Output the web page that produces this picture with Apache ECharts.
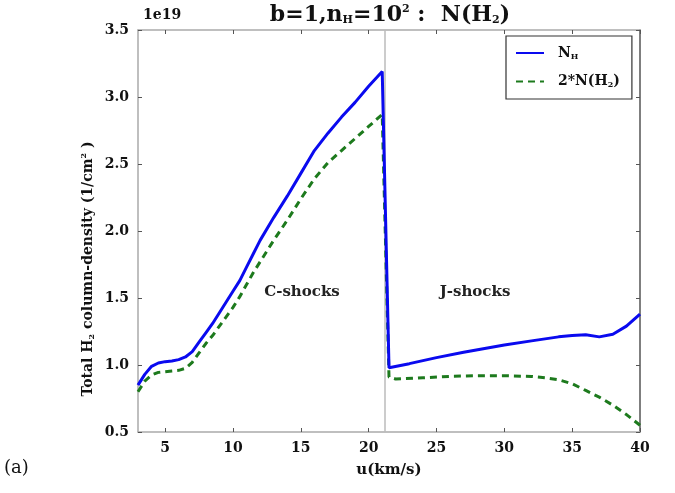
<!DOCTYPE html>
<html>
<head>
<meta charset="utf-8">
<script src="https://cdn.jsdelivr.net/npm/echarts@6/dist/echarts.min.js"></script>
<style>html,body{margin:0;padding:0;background:#fff;}#c{width:675px;height:493px;}</style>
</head>
<body>
<div id="c"></div>
<script>
// Data (column density in units of 1e19 cm^-2)
var xTicks = [5, 10, 15, 20, 25, 30, 35, 40];
var nH = [[3,0.85],[3.5,0.93],[4,0.99],[4.5,1.015],[5,1.025],[5.5,1.03],[6,1.04],[6.5,1.06],[7,1.10],[7.5,1.17],[8,1.24],[8.5,1.31],[9,1.39],[9.5,1.47],[10,1.55],[10.5,1.63],[11,1.73],[11.5,1.83],[12,1.93],[13,2.10],[14,2.26],[15,2.43],[16,2.60],[17,2.73],[18,2.85],[19,2.96],[20,3.08],[21,3.19],[21.5,0.98],[23,1.01],[25,1.055],[27,1.095],[30,1.15],[32,1.18],[34,1.21],[35,1.22],[36,1.225],[37,1.21],[38,1.23],[39,1.29],[40,1.38]];
var nH2x2 = [[3,0.80],[3.5,0.88],[4,0.925],[4.5,0.945],[5,0.95],[5.5,0.955],[6,0.96],[6.5,0.975],[7,1.02],[7.5,1.09],[8,1.16],[8.5,1.22],[9,1.29],[9.5,1.36],[10,1.43],[10.5,1.51],[11,1.60],[11.5,1.69],[12,1.77],[13,1.93],[14,2.08],[15,2.24],[16,2.39],[17,2.51],[18,2.60],[19,2.69],[20,2.78],[21,2.87],[21.5,0.91],[22,0.895],[24,0.905],[26,0.915],[28,0.92],[30,0.92],[32,0.915],[33,0.905],[34,0.89],[35,0.86],[36,0.81],[37,0.76],[38,0.70],[39,0.63],[40,0.55]];
var shockBoundary = 21.2;

var SERIF = '"DejaVu Serif","Liberation Serif",serif';
var chart = echarts.init(document.getElementById('c'), null, {renderer:'canvas'});
var frameCol = '#aaaaaa';
var tickStyle = {show:true, inside:true, length:4, lineStyle:{color:'#555', width:1}};
var option = {
  backgroundColor:'#fff',
  animation:false,
  grid:{left:138, right:35, top:30, bottom:61},
  xAxis:[{
    type:'value', min:3, max:40, position:'bottom',
    name:'u(km/s)', nameLocation:'middle', nameGap:31,
    nameTextStyle:{fontFamily:SERIF, fontWeight:'bold', fontSize:15, color:'#111'},
    axisLine:{show:true, lineStyle:{color:frameCol, width:1.5}},
    axisTick:Object.assign({customValues:xTicks}, tickStyle),
    axisLabel:{customValues:xTicks, fontFamily:SERIF, fontWeight:'bold', fontSize:14, color:'#111', margin:9},
    splitLine:{show:false}
  },{
    type:'value', min:3, max:40, position:'top',
    axisLine:{show:true, lineStyle:{color:frameCol, width:1.5}},
    axisTick:Object.assign({customValues:xTicks}, tickStyle),
    axisLabel:{show:false}, splitLine:{show:false}
  }],
  yAxis:[{
    type:'value', min:0.5, max:3.5, interval:0.5, position:'left',
    axisLine:{show:true, lineStyle:{color:frameCol, width:1.5}},
    axisTick:tickStyle,
    axisLabel:{fontFamily:SERIF, fontWeight:'bold', fontSize:14, color:'#111', margin:9,
      formatter:function(v){return v.toFixed(1);}},
    splitLine:{show:false}
  },{
    type:'value', min:0.5, max:3.5, interval:0.5, position:'right',
    axisLine:{show:true, lineStyle:{color:'#555', width:1.5}},
    axisTick:tickStyle,
    axisLabel:{show:false}, splitLine:{show:false}
  }],
  legend:{
    left:506, top:36, orient:'vertical',
    backgroundColor:'#fff', borderColor:'#333', borderWidth:1.2, borderRadius:0,
    padding:[10,12,10,9], itemGap:14, itemWidth:28, itemHeight:14,
    itemStyle:{opacity:0},
    data:['NH','2NH2'],
    formatter:function(n){ return n==='NH' ? '{a|N}{s|H}' : '{a|2*N(H}{s|2}{a|)}'; },
    textStyle:{fontFamily:SERIF, fontWeight:'bold', fontSize:14, color:'#111', padding:[0,0,0,9],
      rich:{a:{fontFamily:SERIF, fontWeight:'bold', fontSize:14, color:'#111'},
            s:{fontFamily:SERIF, fontWeight:'bold', fontSize:8, color:'#111', verticalAlign:'bottom', padding:[7,0,0,0]}}}
  },
  series:[{
    name:'NH', type:'line', data:nH, symbol:'none', smooth:false,
    lineStyle:{color:'#0a0aef', width:3}, itemStyle:{color:'#0a0aef'}, z:3,
    markLine:{silent:true, symbol:['none','none'], label:{show:false},
      lineStyle:{color:'#bbbbbb', width:1.5, type:'solid'},
      data:[{xAxis:shockBoundary}], z:1}
  },{
    name:'2NH2', type:'line', data:nH2x2, symbol:'none', smooth:false,
    lineStyle:{color:'#1d7a1d', width:3, type:[7,5]}, itemStyle:{color:'#1d7a1d'}, z:2
  }],
  graphic:[
    {type:'text', left:143, top:8, style:{text:'1e19', font:'bold 14px '+SERIF, fill:'#111'}},
    {type:'text', x:390, y:15, style:{text:'{a|b=1,n}{s|H}{a|=10}{p|2}{a| :  N(H}{s|2}{a|)}', align:'center', verticalAlign:'middle',
      rich:{a:{font:'bold 22px '+SERIF, fill:'#111'},
            s:{font:'bold 11px '+SERIF, fill:'#111', verticalAlign:'bottom', padding:[9,0,0,0]},
            p:{font:'bold 11px '+SERIF, fill:'#111', verticalAlign:'top', padding:[0,0,10,0]}}}},
    {type:'text', x:88, y:269, rotation:Math.PI/2,
      style:{text:'{a|Total H}{s|2}{a| column-density (1/cm}{p|2}{a| )}', align:'center', verticalAlign:'middle',
      rich:{a:{font:'bold 14px '+SERIF, fill:'#111'},
            s:{font:'bold 8px '+SERIF, fill:'#111', verticalAlign:'bottom', padding:[7,0,0,0]},
            p:{font:'bold 8px '+SERIF, fill:'#111', verticalAlign:'top', padding:[0,0,8,0]}}}},
    {type:'text', x:302, y:292, style:{text:'C-shocks', font:'bold 15px '+SERIF, fill:'#222', align:'center', verticalAlign:'middle'}},
    {type:'text', x:475, y:292, style:{text:'J-shocks', font:'bold 15px '+SERIF, fill:'#222', align:'center', verticalAlign:'middle'}},
    {type:'text', left:4, top:459, style:{text:'(a)', font:'18px '+SERIF, fill:'#111'}}
  ]
};
chart.setOption(option);
</script>
</body>
</html>
